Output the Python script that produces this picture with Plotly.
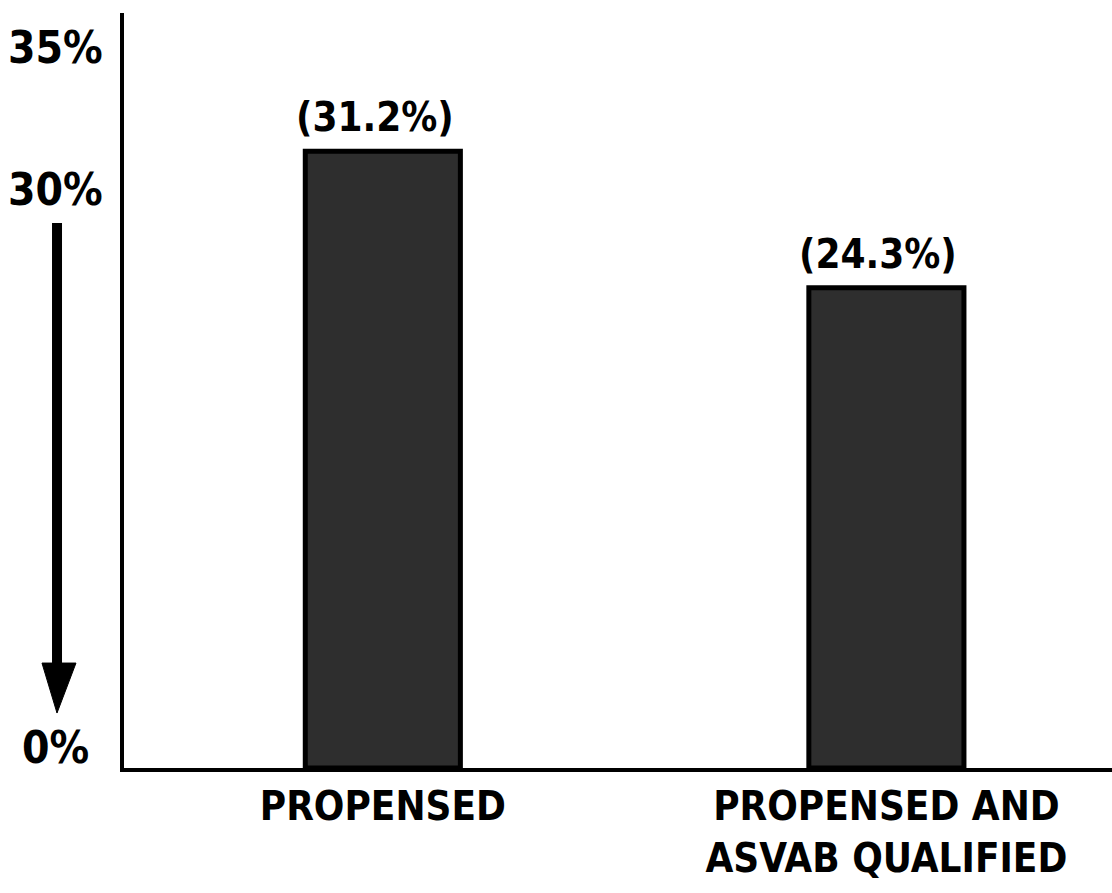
import plotly.graph_objects as go

# Share of the population, by group
categories = ["PROPENSED", "PROPENSED AND<br>ASVAB QUALIFIED"]
values = [31.2, 24.3]
value_labels = ["(31.2%)", "(24.3%)"]

# Y-axis reference labels (value, text)
tick_values = [35, 30, 0]
tick_labels = ["35%", "30%", "0%"]

FONT = "'Liberation Sans Narrow', 'Arial Narrow', 'DejaVu Sans Condensed', Arial, sans-serif"

fig = go.Figure()
fig.add_trace(go.Bar(
    x=[0, 1],
    y=values,
    width=0.308,
    marker=dict(color="#2e2e2e", line=dict(color="#000000", width=5)),
    hoverinfo="skip",
))

annotations = []
# value labels above the bars
for i, (v, t) in enumerate(zip(values, value_labels)):
    annotations.append(dict(
        x=i, y=v, xref="x", yref="y", text=t, showarrow=False,
        xanchor="center", yanchor="bottom", yshift=9, xshift=-8,
        font=dict(family=FONT, size=40, color="#000000", weight="bold"),
    ))

# y reference labels, set beside the broken scale
label_shift = {35: 29, 30: -14, 0: 21}
for v, t in zip(tick_values, tick_labels):
    annotations.append(dict(
        x=-0.069, y=v, xref="paper", yref="y", text=t, showarrow=False,
        xanchor="center", yanchor="middle", yshift=label_shift[v],
        font=dict(family=FONT, size=44, color="#000000", weight="bold"),
    ))

fig.update_layout(
    width=1112, height=893,
    margin=dict(l=124, r=0, t=13, b=125),
    paper_bgcolor="#ffffff", plot_bgcolor="#ffffff",
    showlegend=False,
    annotations=annotations,
    xaxis=dict(
        range=[-0.514, 1.448],
        tickvals=[0, 1], ticktext=categories,
        showline=True, linecolor="#000000", linewidth=4,
        showgrid=False, zeroline=False, ticks="",
        tickfont=dict(family=FONT, size=40, color="#000000", weight="bold"),
        fixedrange=True,
    ),
    yaxis=dict(
        range=[0, 38.2],
        showticklabels=False, ticks="",
        showline=True, linecolor="#000000", linewidth=4,
        showgrid=False, zeroline=False,
        fixedrange=True,
    ),
    shapes=[
        # arrow shaft pointing from 30% down to 0%
        dict(type="line", xref="paper", yref="paper",
             x0=-0.0678, x1=-0.0678, y0=0.722, y1=0.13,
             line=dict(color="#000000", width=10)),
        # arrow head
        dict(type="path", xref="paper", yref="paper",
             path="M -0.083 0.139 L -0.0486 0.139 L -0.0678 0.0728 Z",
             fillcolor="#000000", line=dict(color="#000000", width=1)),
    ],
)

fig.write_html("out.html")
